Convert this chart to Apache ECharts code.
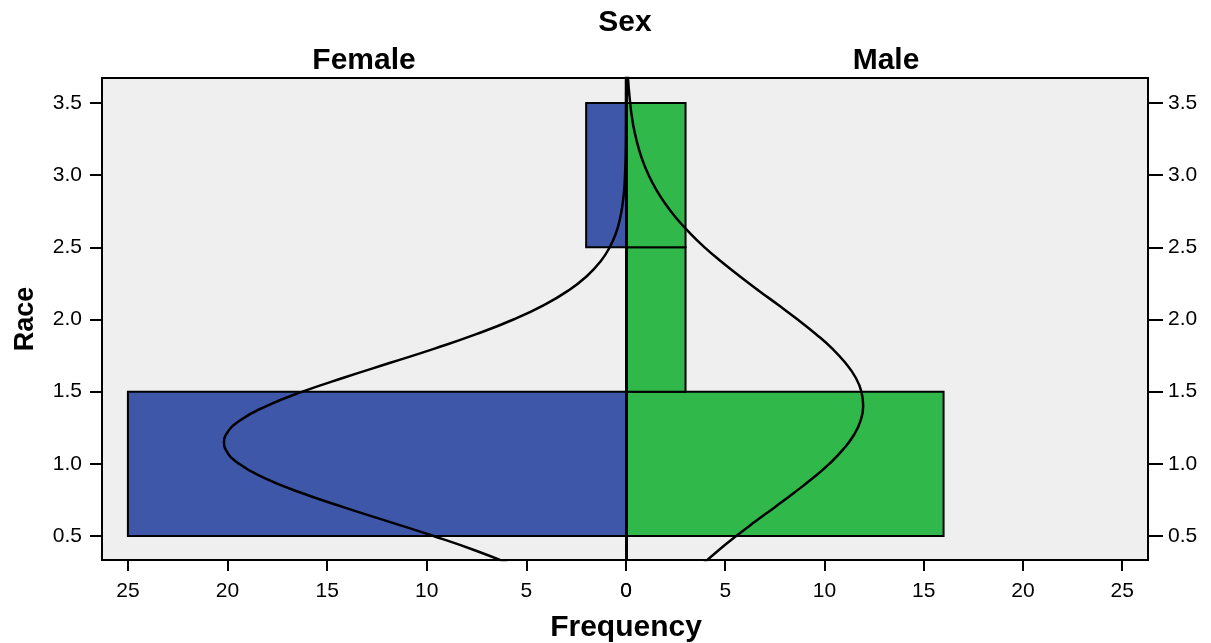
<!DOCTYPE html>
<html><head><meta charset="utf-8">
<script src="https://cdn.jsdelivr.net/npm/echarts@6/dist/echarts.min.js"></script>
<style>html,body{margin:0;padding:0;background:#fff}#c{width:1211px;height:643px}</style>
</head><body><div id="c"></div>
<script>
// Histogram bins of Race: [binStart, binEnd, frequency]
const femaleBins = [[0.5, 1.5, 25], [1.5, 2.5, 0], [2.5, 3.5, 2]];
const maleBins = [[0.5, 1.5, 16], [1.5, 2.5, 3], [2.5, 3.5, 3]];
// Normal curves: [frequency, race]
const femaleCurve = [[5.71,0.3],[7.56,0.4],[9.66,0.5],[11.91,0.6],[14.19,0.7],[16.31,0.8],[18.11,0.9],[19.42,1.0],[20.10,1.1],[20.18,1.15],[20.09,1.2],[19.38,1.3],[18.05,1.4],[16.24,1.5],[14.10,1.6],[11.83,1.7],[9.57,1.8],[7.48,1.9],[5.65,2.0],[4.12,2.1],[2.90,2.2],[1.97,2.3],[1.29,2.4],[0.82,2.5],[0.50,2.6],[0.30,2.7],[0.17,2.8],[0.09,2.9],[0.05,3.0],[0.025,3.1],[0.012,3.2],[0.003,3.4],[0.0002,3.7]];
const maleCurve = [[3.82,0.3],[4.65,0.4],[5.55,0.5],[6.51,0.6],[7.50,0.7],[8.47,0.8],[9.40,0.9],[10.24,1.0],[10.94,1.1],[11.48,1.2],[11.82,1.3],[11.95,1.4],[11.86,1.5],[11.56,1.6],[11.05,1.7],[10.38,1.8],[9.56,1.9],[8.65,2.0],[7.68,2.1],[6.69,2.2],[5.73,2.3],[4.81,2.4],[3.96,2.5],[3.21,2.6],[2.55,2.7],[1.99,2.8],[1.52,2.9],[1.14,3.0],[0.84,3.1],[0.61,3.2],[0.43,3.3],[0.30,3.4],[0.21,3.5],[0.14,3.6],[0.09,3.7]];
const xTicks = [0, 5, 10, 15, 20, 25];
const yTicks = [0.5, 1.0, 1.5, 2.0, 2.5, 3.0, 3.5];
const panelTitles = ['Female', 'Male'];

const FONT = '"Liberation Sans", Arial, sans-serif';
const chart = echarts.init(document.getElementById('c'));

function barRenderer(color) {
  return function (params, api) {
    const y0 = api.value(0), y1 = api.value(1), v = api.value(2);
    if (!v) return null;
    const p0 = api.coord([0, y1]);
    const p1 = api.coord([v, y0]);
    return {
      type: 'rect',
      shape: { x: Math.min(p0[0], p1[0]), y: Math.min(p0[1], p1[1]), width: Math.abs(p1[0] - p0[0]), height: Math.abs(p1[1] - p0[1]) },
      style: { fill: color, stroke: '#000', lineWidth: 2 }
    };
  };
}

const xAxisCommon = {
  type: 'value', min: 0, max: 26.3, position: 'bottom',
  axisLine: { show: false, onZero: false },
  splitLine: { show: false },
  axisTick: { show: true, customValues: xTicks, length: 11, lineStyle: { color: '#000', width: 2 } },
  axisLabel: { customValues: xTicks, fontSize: 21, color: '#000', fontFamily: FONT, margin: 21 }
};
const yAxisCommon = {
  type: 'value', min: 0.334, max: 3.673,
  axisLine: { show: false, onZero: false },
  splitLine: { show: false },
  axisLabel: { customValues: yTicks, fontSize: 21, color: '#000', fontFamily: FONT, margin: 20, formatter: v => v.toFixed(1) }
};
const titleStyle = { fontSize: 30, fontWeight: 'bold', color: '#000', fontFamily: FONT };

chart.setOption({
  animation: false,
  backgroundColor: '#fff',
  title: [
    { text: 'Sex', left: 625, top: 8, padding: 0, textAlign: 'center', textStyle: titleStyle },
    { text: panelTitles[0], left: 364, top: 46, padding: 0, textAlign: 'center', textStyle: titleStyle },
    { text: panelTitles[1], left: 886, top: 46, padding: 0, textAlign: 'center', textStyle: titleStyle },
    { text: 'Frequency', left: 626, top: 613, padding: 0, textAlign: 'center', textStyle: titleStyle }
  ],
  grid: [
    { left: 102, right: 585, top: 78, bottom: 83, show: true, backgroundColor: '#efefef', borderColor: '#000', borderWidth: 2 },
    { left: 626, right: 63, top: 78, bottom: 83, show: true, backgroundColor: '#efefef', borderColor: '#000', borderWidth: 2 }
  ],
  xAxis: [
    Object.assign({}, xAxisCommon, { gridIndex: 0, inverse: true }),
    Object.assign({}, xAxisCommon, { gridIndex: 1 })
  ],
  yAxis: [
    Object.assign({}, yAxisCommon, { gridIndex: 0, position: 'left',
      axisTick: { show: true, customValues: yTicks, length: 12, lineStyle: { color: '#000', width: 2 } },
      name: 'Race', nameLocation: 'middle', nameRotate: 90, nameGap: 63,
      nameTextStyle: { fontSize: 27, fontWeight: 'bold', color: '#000', fontFamily: FONT } }),
    Object.assign({}, yAxisCommon, { gridIndex: 1, position: 'right',
      axisTick: { show: true, customValues: yTicks, length: 15, lineStyle: { color: '#000', width: 2 } } })
  ],
  series: [
    { type: 'custom', xAxisIndex: 0, yAxisIndex: 0, encode: { x: 2, y: [0, 1] }, data: femaleBins, renderItem: barRenderer('#3e57a9'), z: 2 },
    { type: 'custom', xAxisIndex: 1, yAxisIndex: 1, encode: { x: 2, y: [0, 1] }, data: maleBins, renderItem: barRenderer('#30b84b'), z: 2,
      markLine: { silent: true, symbol: 'none', label: { show: false }, lineStyle: { color: '#000', width: 3, type: 'solid' }, data: [{ xAxis: 0 }] } },
    { type: 'line', xAxisIndex: 0, yAxisIndex: 0, data: femaleCurve, smooth: true, symbol: 'none', clip: true, lineStyle: { color: '#000', width: 2.5 }, z: 3 },
    { type: 'line', xAxisIndex: 1, yAxisIndex: 1, data: maleCurve, smooth: true, symbol: 'none', clip: true, lineStyle: { color: '#000', width: 2.5 }, z: 3 }
  ]
});
</script>
</body></html>
